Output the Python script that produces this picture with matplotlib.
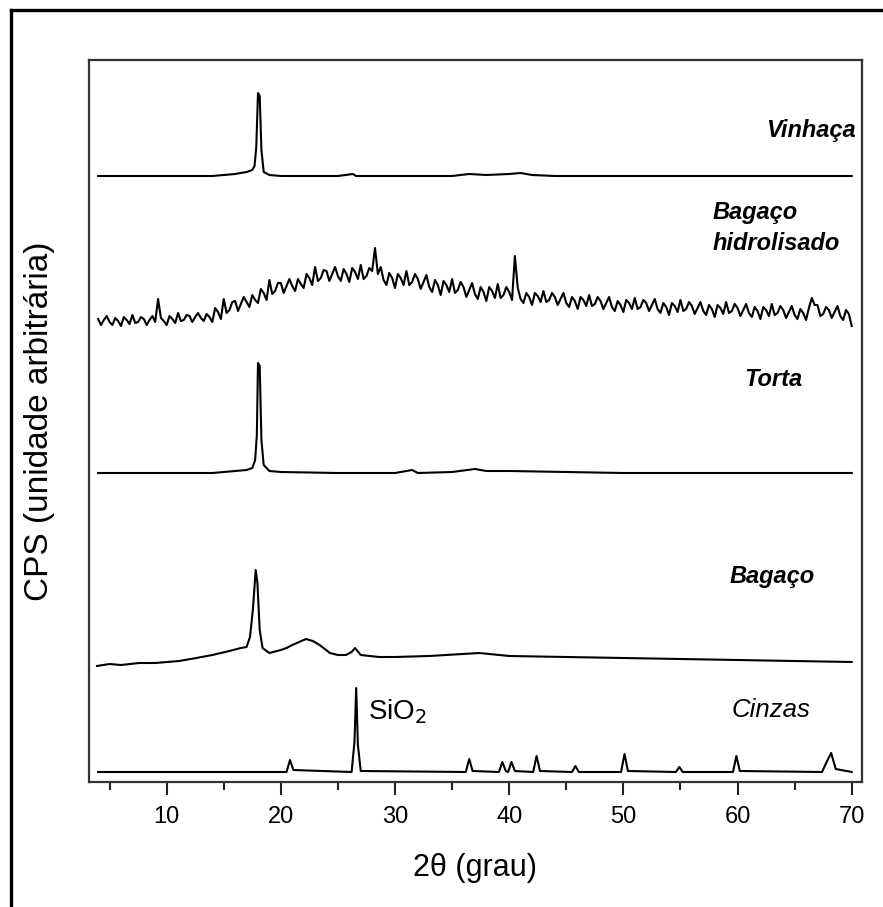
import numpy as np
import matplotlib
matplotlib.use("Agg")
import matplotlib.pyplot as plt
from matplotlib.lines import Line2D

plt.rcParams['font.family'] = ['Liberation Sans', 'DejaVu Sans']

# ---------------- data (2θ in degrees, intensity in arbitrary offset units) ----------
vinhaca_x = [4, 8, 12, 14, 15, 16, 17, 17.5, 17.7, 17.85, 18.0, 18.15, 18.3, 18.5, 19, 20, 22, 25,
             26.3, 26.6, 27, 30, 35, 36.5, 38, 40, 41, 41.5, 42, 44, 50, 55, 60, 65, 70]
vinhaca_y = [606, 606, 606, 606, 607, 608, 610, 612, 616, 635, 689, 686, 632, 610, 607, 606, 606, 606,
             608, 606, 606, 606, 606, 608, 607, 608, 609, 608, 607, 606, 606, 606, 606, 606, 606]

# bagaço hidrolisado: one group per degree (x.00, x.25, x.50, x.75), 4° .. 69.75°, then 70°
hidro_x = np.arange(4, 70.01, 0.25)
hidro_y = [
    463, 457, 462, 466,  460, 457, 464, 461,  456, 465, 462, 458,  467, 459, 460, 465,   # 4-7
    463, 457, 462, 466,  460, 483, 464, 461,  457, 466, 463, 459,  469, 461, 462, 467,   # 8-11
    466, 460, 465, 469,  464, 461, 468, 465,  460, 474, 470, 463,  483, 469, 472, 480,   # 12-15
    481, 471, 478, 485,  480, 475, 487, 482,  479, 493, 489, 482,  502, 488, 491, 499,   # 16-19
    499, 489, 496, 503,  496, 491, 503, 498,  494, 508, 504, 497,  515, 501, 504, 512,   # 20-23
    511, 501, 508, 515,  506, 501, 513, 508,  500, 514, 510, 503,  517, 503, 506, 514,   # 24-27
    511, 534, 508, 515,  502, 497, 509, 504,  494, 508, 504, 497,  511, 497, 500, 508,   # 28-31
    503, 493, 500, 507,  495, 490, 502, 497,  487, 501, 497, 490,  503, 489, 492, 500,   # 32-35
    495, 485, 492, 499,  488, 483, 495, 490,  481, 495, 491, 484,  498, 484, 487, 495,   # 36-39
    490, 482, 526, 494,  483, 479, 489, 485,  477, 489, 486, 480,  491, 480, 482, 489,   # 40-43
    485, 477, 483, 489,  479, 475, 485, 481,  473, 485, 482, 476,  487, 476, 478, 485,   # 44-47
    481, 473, 479, 485,  475, 471, 481, 477,  470, 482, 479, 473,  484, 473, 475, 482,   # 48-51
    479, 471, 477, 483,  473, 469, 479, 475,  467, 479, 476, 470,  482, 471, 473, 480,   # 52-55
    476, 468, 474, 480,  471, 467, 477, 473,  465, 477, 474, 468,  480, 469, 471, 478,   # 56-59
    474, 466, 472, 478,  469, 465, 475, 471,  463, 475, 472, 466,  478, 467, 469, 476,   # 60-63
    472, 464, 470, 476,  467, 463, 473, 469,  462, 474, 484, 477,  477, 466, 468, 475,   # 64-67
    472, 464, 470, 476,  466, 462, 472, 468,                                             # 68-69
    456]                                                                                 # 70

torta_x = [4, 10, 14, 15, 16, 17, 17.5, 17.75, 17.9, 18.0, 18.15, 18.3, 18.5, 19, 20, 25, 30, 31.5,
           32, 35, 37, 38, 40, 45, 50, 55, 60, 65, 70]
torta_y = [309, 309, 309, 310, 311, 312, 314, 322, 347, 419, 416, 342, 317, 311, 310, 309, 309, 312,
           309, 310, 313, 311, 311, 310, 309, 309, 309, 309, 309]

bagaco_x = [3.9, 5, 6, 7.6, 9, 11.1, 12.6, 14.0, 15.5, 16.5, 17.0, 17.3, 17.55, 17.8, 17.95, 18.15,
            18.4, 19.0, 20.0, 20.5, 21.0, 21.6, 22.2, 22.8, 23.4, 24.3, 25.0, 25.7, 26.2, 26.5, 27.0,
            28.6, 30, 33, 37.4, 40, 45, 50, 55, 60, 65, 70]
bagaco_y = [116, 118, 117, 119, 119, 121, 124, 127, 131, 134, 135, 145, 172, 212, 199, 152,
            134, 129, 132, 134, 137, 140, 143, 141, 137, 129, 127, 127, 130, 134, 127,
            125, 125, 126, 129, 126, 125, 124, 123, 122, 121, 120]

cinzas_x = [4, 20.5, 20.8, 21.1, 26.2, 26.45, 26.6, 26.75, 27.0, 36.2, 36.5, 36.8, 39.1, 39.4, 39.7,
            39.9, 40.2, 40.5, 42.1, 42.4, 42.7, 45.5, 45.8, 46.1, 49.8, 50.1, 50.4, 54.6, 54.9, 55.2,
            59.6, 59.9, 60.2, 67.4, 67.8, 68.2, 68.6, 70]
cinzas_y = [10, 10, 22, 12, 10, 40, 94, 37, 11, 10, 23, 11, 10, 20, 11,
            10, 20, 11, 10, 26, 11, 10, 16, 10, 10, 28, 11, 10, 15, 10,
            10, 26, 11, 10, 20, 29, 13, 10]

xticks_major = [10, 20, 30, 40, 50, 60, 70]
xticks_minor = [5, 15, 25, 35, 45, 55, 65]

# ---------------- figure ----------------
W, H = 883, 907
fig = plt.figure(figsize=(W / 100, H / 100), dpi=100)
ax = fig.add_axes([89 / W, 1 - 782 / H, (862 - 89) / W, (782 - 60) / H])

lw = 1.5
for xs, ys in [(vinhaca_x, vinhaca_y), (hidro_x, hidro_y), (torta_x, torta_y),
               (bagaco_x, bagaco_y), (cinzas_x, cinzas_y)]:
    ax.plot(xs, ys, color='black', lw=lw)

ax.set_xlim(3.2, 70.9)
ax.set_ylim(0, 722)
ax.set_yticks([])
ax.set_xticks(xticks_major)
ax.set_xticks(xticks_minor, minor=True)
ax.set_xticklabels([str(t) for t in xticks_major])
ax.tick_params(axis='x', which='major', direction='out', length=9.5, width=1.5,
               labelsize=17, pad=8, color='#222222')
ax.tick_params(axis='x', which='minor', direction='out', length=6, width=1.5, color='#222222')
for s in ax.spines.values():
    s.set_linewidth(1.6)
    s.set_color('#333333')

fig.text(475 / W, 1 - 868 / H, '2θ (grau)', fontsize=22, ha='center', va='center')
fig.text(40 / W, 1 - 421 / H, 'CPS (unidade arbitrária)', rotation=90, fontsize=24,
         ha='center', va='center')

lab = dict(fontsize=17, style='italic', weight='bold', ha='left', va='center')
ax.text(62.5, 782 - 130, 'Vinhaça', **lab)
ax.text(57.8, 782 - 213, 'Bagaço', **lab)
ax.text(57.8, 782 - 243, 'hidrolisado', **lab)
ax.text(60.6, 782 - 380, 'Torta', **lab)
ax.text(59.3, 782 - 576, 'Bagaço', **lab)
ax.text(59.5, 782 - 710, 'Cinzas', fontsize=18.5, style='italic', ha='left', va='center')
ax.text(27.6, 782 - 712, 'SiO$_2$', fontsize=20, ha='left', va='center')

# outer frame (left and top edges)
fig.add_artist(Line2D([11 / W, 11 / W], [0, 1 - 10 / H], transform=fig.transFigure,
                      color='black', lw=2.4))
fig.add_artist(Line2D([11 / W, 1], [1 - 10 / H, 1 - 10 / H], transform=fig.transFigure,
                      color='black', lw=2.4))

fig.savefig('out.png', dpi=100)
